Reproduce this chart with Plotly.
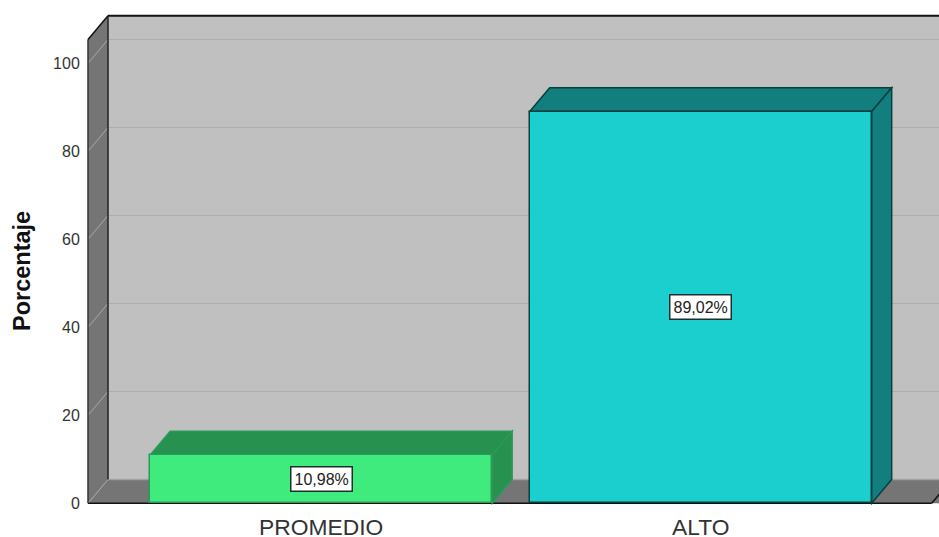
import plotly.graph_objects as go

categories = ['PROMEDIO', 'ALTO']
values = [10.98, 89.02]
labels = ['10,98%', '89,02%']
y_ticks = [0, 20, 40, 60, 80, 100]

face_colors = ['#40EB7D', '#1CCFCF']
shade_colors = ['#27914F', '#127E7E']
edge_colors = ['#2B9A58', '#0B3E3E']

# box geometry in axis units
bar_width = 0.9012
x_front = -0.6144
x_end = 1.628
x_shift = 0.0527
y_shift = 5.4
y_top = 105.4
x_scale = 379.5
y_scale = 4.4


def poly(points, fill, line='rgba(0,0,0,0)', width=0):
    path = 'M' + ' L'.join(f'{x},{y}' for x, y in points) + ' Z'
    return dict(type='path', path=path, fillcolor=fill, layer='below',
                line=dict(color=line, width=width))


def seg(x0, y0, x1, y1, color, width=1.0):
    return dict(type='line', x0=x0, y0=y0, x1=x1, y1=y1, layer='below',
                line=dict(color=color, width=width))


x_back = x_front + x_shift
y_back_top = y_top + y_shift

shapes = [
    # back wall, side wall, floor
    poly([(x_back, y_shift), (x_end + 1, y_shift), (x_end + 1, y_back_top), (x_back, y_back_top)], '#C0C0C0'),
    poly([(x_front, 0), (x_back, y_shift), (x_back, y_back_top), (x_front, y_top)], '#757575'),
    poly([(x_front, 0), (x_end + 1, 0), (x_end + 1, y_shift), (x_back, y_shift)], '#757575'),
    seg(x_back, y_shift, x_end + 1, y_shift, '#A2A2A2', 1.5),
]

for t in y_ticks[1:]:
    shapes.append(seg(x_front, t, x_back, t + y_shift, '#A8A8A8'))
    shapes.append(seg(x_back, t + y_shift, x_end + 1, t + y_shift, '#ADADAD'))

shapes += [
    seg(x_front, 0, x_front, y_top, '#333333', 1.5),
    seg(x_front, y_top, x_back, y_back_top, '#111111', 1.5),
    seg(x_back, y_back_top, x_end + 1, y_back_top, '#111111', 2),
    seg(x_back, y_shift, x_back, y_back_top, '#222222', 1.5),
    seg(x_front, 0, x_back, y_shift, '#A8A8A8'),
    seg(x_front, 0, x_end - 0.0193, 0, '#111111', 1.5),
    seg(x_end - 0.0193, 0, x_end - 0.0193 + x_shift, y_shift, '#111111', 1.5),
]

# top and side faces of the bars
for i, v in enumerate(values):
    left = i - bar_width / 2
    right = i + bar_width / 2
    shapes.append(poly([(left, v), (right, v), (right + x_shift, v + y_shift), (left + x_shift, v + y_shift)],
                       shade_colors[i], edge_colors[i], 1.5))
    shapes.append(poly([(right, 0), (right + x_shift, y_shift), (right + x_shift, v + y_shift), (right, v)],
                       shade_colors[i], edge_colors[i], 1.5))

fig = go.Figure()
fig.add_trace(go.Bar(x=[0, 1], y=values, width=bar_width,
                     marker=dict(color=face_colors, line=dict(color=edge_colors, width=1.5)),
                     hoverinfo='skip', showlegend=False))

for i, v in enumerate(values):
    fig.add_annotation(x=i, y=v / 2, text=labels[i], showarrow=False, bgcolor='white',
                       bordercolor='#1E2E2E', borderwidth=1.5, borderpad=3,
                       font=dict(family='Liberation Sans', size=16, color='#222222'))

fig.add_annotation(xref='paper', yref='paper', x=(22 - 86) / 853, y=(505 - 271) / 491, text='<b>Porcentaje</b>',
                   textangle=-90, showarrow=False, xanchor='center', yanchor='middle',
                   font=dict(family='Liberation Sans', size=23.5, color='#111111'))

fig.update_layout(
    width=939, height=537,
    margin=dict(l=86, r=0, t=14, b=32, autoexpand=False),
    paper_bgcolor='white', plot_bgcolor='white',
    shapes=shapes,
    bargap=0,
    xaxis=dict(range=[x_front - 2 / x_scale, x_end], tickvals=[0, 1], ticktext=categories, showgrid=False,
               zeroline=False, showline=False, ticks='outside', ticklen=2, tickcolor='rgba(0,0,0,0)',
               automargin=False,
               tickfont=dict(family='Liberation Sans', size=22.8, color='#333333')),
    yaxis=dict(range=[-1.7 / y_scale, 489.3 / y_scale], tickvals=y_ticks, showgrid=False, zeroline=False,
               showline=False, ticks='outside', ticklen=2, tickcolor='rgba(0,0,0,0)', automargin=False,
               tickfont=dict(family='Liberation Sans', size=16, color='#333333')),
)

fig.write_html('out.html', config=dict(displayModeBar=False), post_script="document.body.style.margin='0';")
